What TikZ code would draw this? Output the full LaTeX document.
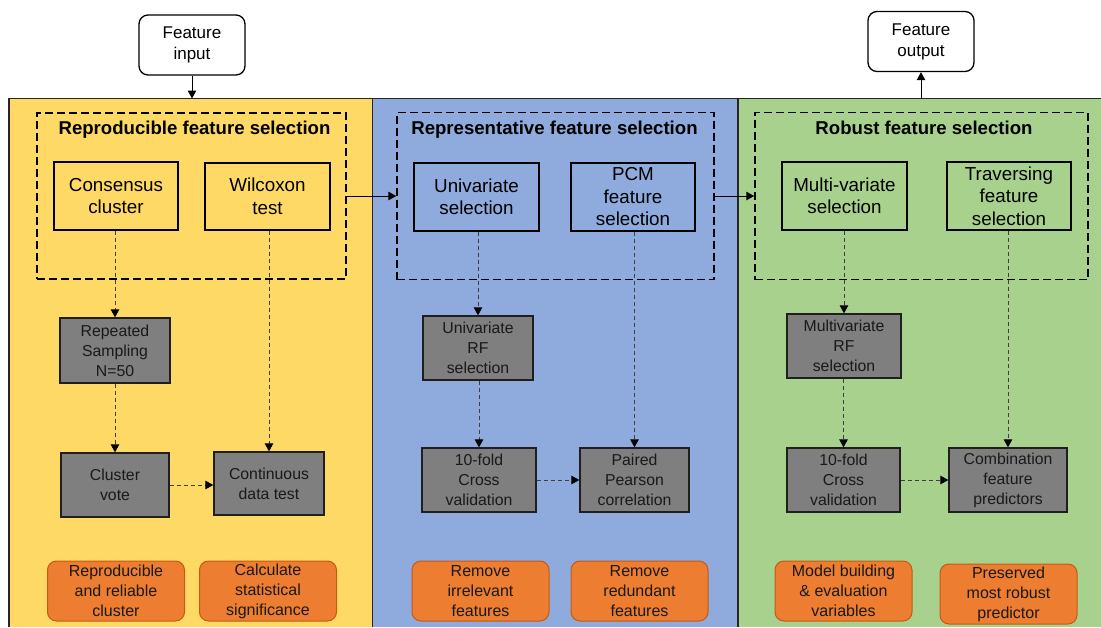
\documentclass[tikz,border=0pt]{standalone}
\usepackage{fontspec}
\setmainfont{Liberation Sans}
\usetikzlibrary{arrows.meta}
\definecolor{panelyellow}{HTML}{FFD966}
\definecolor{panelblue}{HTML}{8FAADC}
\definecolor{panelgreen}{HTML}{A9D18E}
\definecolor{graybody}{HTML}{7F7F7F}
\definecolor{notefill}{HTML}{ED7D31}
\definecolor{noteline}{HTML}{C55A11}
\definecolor{frameline}{HTML}{262626}
\definecolor{flowline}{HTML}{3F3F3F}
\begin{document}
\begin{tikzpicture}[x=1pt,y=-1pt,
  stagebox/.style={draw=black, line width=1.5pt, dash pattern=on 8pt off 4pt, inner sep=0pt},
  stagetitle/.style={font=\fontsize{18.6}{22}\selectfont\bfseries, anchor=base, inner sep=0pt},
  topbox/.style={draw=black, line width=1.3pt, align=center, inner sep=0pt,
    font=\fontsize{18.8}{22.5}\selectfont},
  graybox/.style={draw=black!88, fill=graybody, line width=1.3pt, align=center, inner sep=0pt,
    text=black!90, font=\fontsize{15.8}{20}\selectfont},
  notebox/.style={draw=noteline, fill=notefill, line width=1pt, rounded corners=9pt,
    minimum width=137pt, minimum height=60pt, align=center, inner sep=0pt,
    text=black!90, font=\fontsize{16}{20}\selectfont},
  iobox/.style={draw=black, fill=white, line width=1.3pt, rounded corners=9pt,
    minimum width=106pt, minimum height=60pt, align=center, inner sep=0pt,
    font=\fontsize{17}{21}\selectfont},
  flow/.style={draw=flowline, line width=0.9pt, dash pattern=on 4pt off 3pt,
    -{Triangle[length=8pt,width=8.5pt,color=black]}},
  solidflow/.style={draw=black, line width=1pt, -{Triangle[length=8pt,width=8.5pt]}}
]
\useasboundingbox (0,0) rectangle (1101,627);

% three stage panels
\fill[panelyellow] (9,98.5) rectangle (372.5,627);
\fill[panelblue] (372.5,98.5) rectangle (738,627);
\fill[panelgreen] (738,98.5) rectangle (1101,627);
\draw[frameline, line width=1.8pt] (9,627) -- (9,98.5) -- (1101,98.5);
\draw[frameline, line width=1.8pt] (372.5,98.5) -- (372.5,627);
\draw[frameline, line width=1.8pt] (738,98.5) -- (738,627);
\coordinate (paneltop) at (0,98.5);

% input and output
\node[iobox] (fin) at (192,45) {Feature\\input};
\node[iobox] (fout) at (921,41.5) {Feature\\output};
\draw[solidflow] (fin.south) -- (fin.south |- paneltop);
\draw[solidflow] (fout.south |- paneltop) -- (fout.south);

% dashed stage frames
\node[stagebox, minimum width=309pt, minimum height=166pt] (s1) at (191.5,196) {};
\node[stagebox, minimum width=317pt, minimum height=167pt] (s2) at (555.5,196) {};
\node[stagebox, minimum width=333pt, minimum height=167pt] (s3) at (921.5,196) {};
\node[stagetitle] (t1) at (194.5,134.5) {Reproducible feature selection};
\node[stagetitle] (t2) at (554.5,134) {Representative feature selection};
\node[stagetitle] (t3) at (924,134) {Robust feature selection};
\draw[solidflow] (s1.east) -- (s2.west);
\draw[solidflow] (s2.east) -- (s3.west);

% method boxes
\node[topbox, minimum width=124pt, minimum height=68pt] (cc) at (116,196) {Consensus\\cluster};
\node[topbox, minimum width=125pt, minimum height=67pt] (wt) at (267.5,196.5) {Wilcoxon\\test};
\node[topbox, minimum width=125pt, minimum height=68pt] (us) at (476.5,197) {Univariate\\selection};
\node[topbox, minimum width=124pt, minimum height=68pt] (pcm) at (633,197) {PCM\\feature\\selection};
\node[topbox, minimum width=125pt, minimum height=68pt] (mv) at (844.5,196) {Multi-variate\\selection};
\node[topbox, minimum width=124pt, minimum height=68pt] (tv) at (1009,196) {Traversing\\feature\\selection};

% processing steps
\node[graybox, minimum width=110pt, minimum height=65pt] (rs) at (115,350.5) {Repeated\\Sampling\\N=50};
\node[graybox, minimum width=108pt, minimum height=64pt] (cv) at (115,485) {Cluster\\vote};
\node[graybox, minimum width=110pt, minimum height=63pt] (cdt) at (269,483.5) {Continuous\\data test};
\node[graybox, minimum width=110pt, minimum height=64pt] (urf) at (478,348) {Univariate\\RF\\selection};
\node[graybox, minimum width=114pt, minimum height=64pt] (kf1) at (479,480) {10-fold\\Cross\\validation};
\node[graybox, minimum width=109pt, minimum height=64pt] (ppc) at (634.5,480) {Paired\\Pearson\\correlation};
\node[graybox, minimum width=114pt, minimum height=64pt] (mrf) at (844,346) {Multivariate\\RF\\selection};
\node[graybox, minimum width=113pt, minimum height=64pt] (kf2) at (843.5,480) {10-fold\\Cross\\validation};
\node[graybox, minimum width=118pt, minimum height=64pt] (cfp) at (1008,480) {Combination\\feature\\predictors};

% outcomes
\node[notebox] (n1) at (116,591) {Reproducible\\and reliable\\cluster};
\node[notebox] (n2) at (268,591) {Calculate\\statistical\\significance};
\node[notebox] (n3) at (480.5,591) {Remove\\irrelevant\\features};
\node[notebox] (n4) at (639.5,591) {Remove\\redundant\\features};
\node[notebox] (n5) at (843.5,591) {Model building\\\& evaluation\\variables};
\node[notebox] (n6) at (1008.5,594) {Preserved\\most robust\\predictor};

% dashed flows
\draw[flow] (rs.north |- cc.south) -- (rs.north);
\draw[flow] (cv.north |- rs.south) -- (cv.north);
\draw[flow] (cv.east) -- (cv.east -| cdt.west);
\draw[flow] (cdt.north |- wt.south) -- (cdt.north);
\draw[flow] (urf.north |- us.south) -- (urf.north);
\draw[flow] (kf1.north |- urf.south) -- (kf1.north);
\draw[flow] (kf1.east) -- (ppc.west);
\draw[flow] (ppc.north |- pcm.south) -- (ppc.north);
\draw[flow] (mrf.north |- mv.south) -- (mrf.north);
\draw[flow] (kf2.north |- mrf.south) -- (kf2.north);
\draw[flow] (kf2.east) -- (cfp.west);
\draw[flow] (cfp.north |- tv.south) -- (cfp.north);
\end{tikzpicture}
\end{document}
